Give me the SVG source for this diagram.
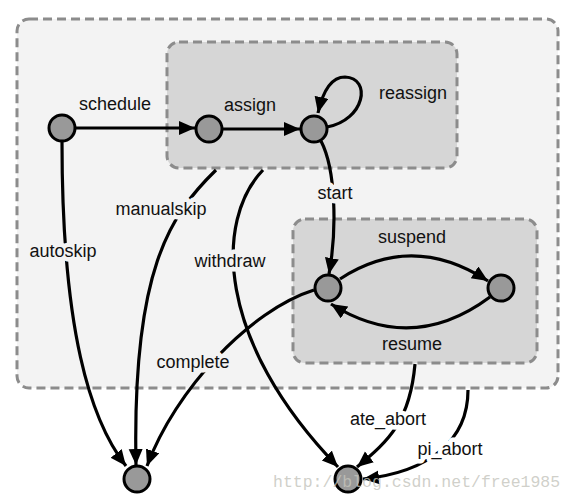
<svg xmlns="http://www.w3.org/2000/svg" width="573" height="501" viewBox="0 0 573 501">
<style>
.box{stroke:#8c8c8c;stroke-width:3;stroke-dasharray:9,5}
.node{fill:#999;stroke:#000;stroke-width:3}
.edge{fill:none;stroke:#000;stroke-width:3.2;marker-end:url(#arr)}
.lbl{font-family:"Liberation Sans",Arial,sans-serif;font-size:18px;fill:#111;text-anchor:middle;paint-order:stroke;stroke-width:9;stroke-linejoin:round}
.h1{stroke:#f3f3f3}
.h0{stroke:#fff}
.hn{stroke:none}
.wm{font-family:"Liberation Mono","Courier New",monospace;font-size:16.5px;fill:#c4c4bc;fill-opacity:0.8}
</style>
<defs>
<marker id="arr" markerUnits="userSpaceOnUse" markerWidth="18" markerHeight="16" refX="16" refY="7" orient="auto">
<path d="M0,0 L16,7 L0,14 z" fill="#000"/>
</marker>
</defs>
<rect width="573" height="501" fill="#fff"/>
<g id="outer"><rect class="box" x="17" y="19" width="541" height="369" rx="12" fill="#f3f3f3"/></g>
<g id="assigned"><rect class="box" x="167" y="42" width="290" height="126" rx="12" fill="#d6d6d6"/></g>
<g id="running"><rect class="box" x="293" y="219" width="244" height="144" rx="12" fill="#d6d6d6"/></g>
<g id="connectors">
<path class="edge" d="M76,128 L195,128"/>
<path class="edge" d="M223,129 L300,129"/>
<path class="edge" d="M327,127 C365,120 372,78 345,77 C330,77 322,95 318,113"/>
<path class="edge" d="M321,141 C336,170 337,230 329,274"/>
<path class="edge" d="M340,279 Q412,232 488,281"/>
<path class="edge" d="M490,297 Q412,355 331,304"/>
<path class="edge" d="M62,142 C62,330 90,420 126,466"/>
<path class="edge" d="M216,170 C170,215 132,270 136,465"/>
<path class="edge" d="M314,290 C250,310 175,390 147,466"/>
<path class="edge" d="M263,170 C215,220 215,340 338,467"/>
<path class="edge" d="M415,364 C410,420 390,440 357,467"/>
<path class="edge" d="M468,390 C468,440 430,472 363,479"/>
</g>
<g id="labels">
<text class="lbl hn" x="115" y="110">schedule</text>
<text class="lbl hn" x="250" y="111">assign</text>
<text class="lbl hn" x="413" y="99">reassign</text>
<text class="lbl h1" x="335" y="199">start</text>
<text class="lbl hn" x="412" y="243">suspend</text>
<text class="lbl hn" x="412" y="350">resume</text>
<text class="lbl h1" x="161" y="215">manualskip</text>
<text class="lbl h1" x="63" y="257">autoskip</text>
<text class="lbl h1" x="230" y="267">withdraw</text>
<text class="lbl h1" x="193" y="368">complete</text>
<text class="lbl h0" x="388" y="425">ate_abort</text>
<text class="lbl h0" x="450" y="455">pi_abort</text>
</g>
<g id="n_init"><circle class="node" cx="62" cy="128" r="13"/></g>
<g id="n_assigned"><circle class="node" cx="209" cy="129" r="13"/></g>
<g id="n_reassign"><circle class="node" cx="314" cy="129" r="13"/></g>
<g id="n_running"><circle class="node" cx="328" cy="288" r="13"/></g>
<g id="n_suspended"><circle class="node" cx="501" cy="288" r="13"/></g>
<g id="n_done"><circle class="node" cx="137" cy="479" r="13"/></g>
<g id="n_aborted"><circle class="node" cx="348" cy="479" r="13"/></g>
<text class="wm" x="273" y="487">http://blog.csdn.net/free1985</text>
</svg>
